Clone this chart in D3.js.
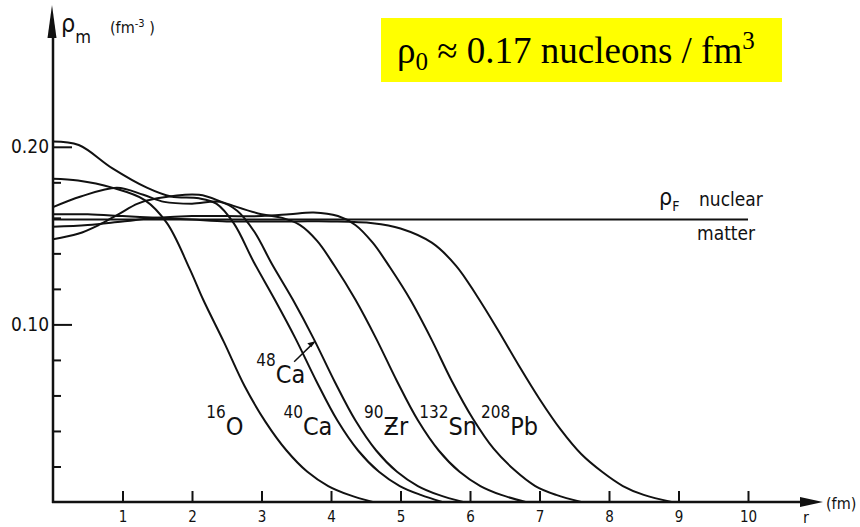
<!DOCTYPE html>
<html>
  <head>
    <meta charset="utf-8">
    <title>Nuclear matter densities</title>
    <script src="https://cdn.jsdelivr.net/npm/d3@7"></script>
    <style>
      body { margin: 0; background: #fff; }
      #chart { display: block; }
      .curve { fill: none; stroke: #111; stroke-width: 2; }
      .fig { font-family: "Liberation Sans Narrow", "DejaVu Sans Condensed", sans-serif; fill: #111; }
      .tick line { stroke: #111; stroke-width: 2; }
      .tick text { font-family: "Liberation Sans Narrow", "DejaVu Sans Condensed", sans-serif; fill: #111; }
    </style>
  </head>
  <body>
    <svg id="chart" width="860" height="527"></svg>
    <script>
      // density profiles: [r (fm), rho (fm^-3)]
      const o16 = [[0,.182],[.36,.181],[.85,.177],[1.32,.170],[1.64,.157],[1.97,.131],[2.16,.114],[2.46,.090],[2.76,.065],[3.06,.045],[3.36,.029],[3.66,.017],[3.96,.009],[4.26,.004],[4.6,0]];
      const ca40 = [[0,.203],[.37,.201],[.85,.188],[1.35,.177],[1.7,.172],[2.1,.171],[2.35,.168],[2.6,.157],[2.89,.135],[3.19,.114],[3.49,.092],[3.79,.068],[4.09,.046],[4.39,.029],[4.69,.017],[4.99,.009],[5.29,.004],[5.6,0]];
      const ca48 = [[0,.166],[.4,.172],[.92,.177],[1.3,.173],[1.6,.169],[2.0,.168],[2.4,.169],[2.65,.164],[2.9,.152],[3.15,.134],[3.45,.114],[3.75,.092],[4.05,.068],[4.35,.046],[4.65,.029],[4.95,.017],[5.25,.009],[5.55,.004],[5.9,0]];
      const zr90 = [[0,.148],[.36,.151],[.66,.156],[.94,.162],[1.22,.168],[1.5,.171],[2.1,.173],[2.5,.168],[3.0,.162],[3.3,.160],[3.55,.156],[3.8,.147],[4.05,.133],[4.35,.114],[4.65,.092],[4.95,.068],[5.25,.046],[5.55,.029],[5.85,.017],[6.15,.009],[6.45,.004],[6.8,0]];
      const sn132 = [[0,.155],[.5,.156],[1.0,.158],[1.5,.160],[2.0,.161],[2.5,.161],[3.0,.161],[3.4,.162],[3.75,.163],[4.1,.161],[4.35,.156],[4.6,.146],[4.85,.132],[5.14,.114],[5.44,.092],[5.74,.068],[6.04,.047],[6.34,.030],[6.64,.018],[6.94,.009],[7.24,.004],[7.6,0]];
      const pb208 = [[0,.162],[.5,.162],[1,.161],[1.5,.160],[2,.159],[2.5,.158],[3,.158],[3.5,.158],[4,.158],[4.6,.157],[5.0,.154],[5.45,.146],[5.8,.133],[6.1,.116],[6.4,.097],[6.7,.077],[7.0,.058],[7.3,.041],[7.6,.027],[7.9,.017],[8.2,.009],[8.5,.004],[8.9,0]];
      const nuclearMatter = [[0,.159],[10,.159]];

      // labels: mass number, symbol, right edge / baseline of the symbol [r, rho]
      const labelMass = ["16", "40", "90", "132", "208", "48"];
      const labelSym = ["O", "Ca", "\u01B5r", "Sn", "Pb", "Ca"];
      const labelPos = [[2.74, .038], [4.02, .038], [5.11, .038], [6.1, .038], [6.98, .038], [3.63, .067]];
      const arrow48 = [[3.47, .079], [3.76, .090]];

      const xTicks = d3.range(1, 11);
      const yTicks = d3.range(0.02, 0.201, 0.02);
      const yLabels = [0.10, 0.20];

      const svg = d3.select("#chart");
      const x = d3.scaleLinear().domain([0, 10]).range([53, 748]);
      const y = d3.scaleLinear().domain([0, 0.2]).range([502, 146.8]);

      const line = d3.line()
        .x(function(d) { return x(d[0]); })
        .y(function(d) { return Math.min(y(0), y(d[1])); })
        .curve(d3.curveCatmullRom.alpha(0.5));

      // yellow note box
      svg.append("rect")
        .attr("x", 381).attr("y", 18).attr("width", 401).attr("height", 64)
        .attr("fill", "#ffff00");
      const note = svg.append("text")
        .attr("x", 397).attr("y", 63)
        .style("font-family", "'Liberation Serif', 'Times New Roman', serif")
        .style("font-size", "37px")
        .attr("fill", "#000");
      note.append("tspan").text("\u03C1");
      note.append("tspan").attr("dy", 7).style("font-size", "25px").text("0");
      note.append("tspan").attr("dy", -7).text(" \u2248 0.17 nucleons / fm");
      note.append("tspan").attr("dy", -14).style("font-size", "25px").text("3");

      // curves
      svg.append("g")
        .selectAll("path")
        .data([nuclearMatter, o16, ca40, ca48, zr90, sn132, pb208])
        .enter().append("path")
          .classed("curve", true)
          .attr("d", line);

      // axes
      const xAxis = d3.axisBottom(x)
        .tickValues(xTicks)
        .tickSizeInner(-11)
        .tickSizeOuter(0)
        .tickPadding(9)
        .tickFormat(d3.format("d"));
      const xAxisGroup = svg.append("g")
        .attr("transform", "translate(0," + y(0) + ")")
        .call(xAxis);
      xAxisGroup.select(".domain").remove();
      xAxisGroup.selectAll(".tick text").style("font-size", "15px");

      const yAxis = d3.axisLeft(y)
        .tickValues(yTicks)
        .tickSizeInner(-8)
        .tickSizeOuter(0)
        .tickPadding(5)
        .tickFormat(function(d) {
          return yLabels.some(function(v) { return Math.abs(v - d) < 1e-6; }) ? d3.format(".2f")(d) : "";
        });
      const yAxisGroup = svg.append("g")
        .attr("transform", "translate(" + x(0) + ",0)")
        .call(yAxis);
      yAxisGroup.select(".domain").remove();
      yAxisGroup.selectAll(".tick text").style("font-size", "19px").attr("x", -4);
      yAxisGroup.selectAll(".tick line")
        .attr("x2", function(d) {
          return yLabels.some(function(v) { return Math.abs(v - d) < 1e-6; }) ? 19 : 8;
        });

      // axis lines with arrows
      svg.append("line")
        .attr("x1", x(0) - 1).attr("x2", 805)
        .attr("y1", y(0)).attr("y2", y(0))
        .attr("stroke", "#111").attr("stroke-width", 2.5);
      svg.append("path")
        .attr("d", "M800,497 L823,502 L800,507 Z")
        .attr("fill", "#111");
      svg.append("line")
        .attr("x1", x(0)).attr("x2", x(0))
        .attr("y1", y(0) + 1).attr("y2", 30)
        .attr("stroke", "#111").attr("stroke-width", 2.5);
      svg.append("path")
        .attr("d", "M47.5,38 L52,5 L56.5,38 Z")
        .attr("fill", "#111");

      // axis titles
      const yTitle = svg.append("text").classed("fig", true)
        .attr("x", 61).attr("y", 32).style("font-size", "25px");
      yTitle.append("tspan").text("\u03C1");
      yTitle.append("tspan").attr("dy", 11).style("font-size", "18px").text("m");
      const yUnit = svg.append("text").classed("fig", true)
        .attr("x", 110).attr("y", 33).style("font-size", "16px");
      yUnit.append("tspan").text("(fm");
      yUnit.append("tspan").attr("dy", -6).style("font-size", "11px").text("-3");
      yUnit.append("tspan").attr("dy", 6).text(" )");
      svg.append("text").classed("fig", true)
        .attr("x", 826).attr("y", 509).style("font-size", "16px").text("(fm)");
      svg.append("text").classed("fig", true)
        .attr("x", 803).attr("y", 523).style("font-size", "16px").text("r");

      // nuclear matter label
      const rhoF = svg.append("text").classed("fig", true)
        .attr("x", 659).attr("y", 205).style("font-size", "23px");
      rhoF.append("tspan").text("\u03C1");
      rhoF.append("tspan").attr("dy", 6).style("font-size", "14px").text("F");
      svg.append("text").classed("fig", true)
        .attr("x", 699).attr("y", 206).style("font-size", "19px").text("nuclear");
      svg.append("text").classed("fig", true)
        .attr("x", 697).attr("y", 240).style("font-size", "19px").text("matter");

      // isotope labels
      labelMass.forEach(function(m, i) {
        const t = svg.append("text").classed("fig", true)
          .attr("x", x(labelPos[i][0]))
          .attr("y", y(labelPos[i][1]))
          .attr("text-anchor", "end")
          .style("font-size", "25px");
        t.append("tspan").attr("dy", -17).style("font-size", "17px").text(m);
        t.append("tspan").attr("dy", 17).text(labelSym[i]);
      });
      svg.append("line")
        .attr("x1", x(arrow48[0][0])).attr("y1", y(arrow48[0][1]))
        .attr("x2", x(arrow48[1][0])).attr("y2", y(arrow48[1][1]))
        .attr("stroke", "#111").attr("stroke-width", 1.5);
      svg.append("path")
        .attr("d", "M" + (x(arrow48[1][0]) + 1) + "," + (y(arrow48[1][1]) - 1) + " l-8,2 l4,4 Z")
        .attr("fill", "#111");
    </script>
  </body>
</html>
